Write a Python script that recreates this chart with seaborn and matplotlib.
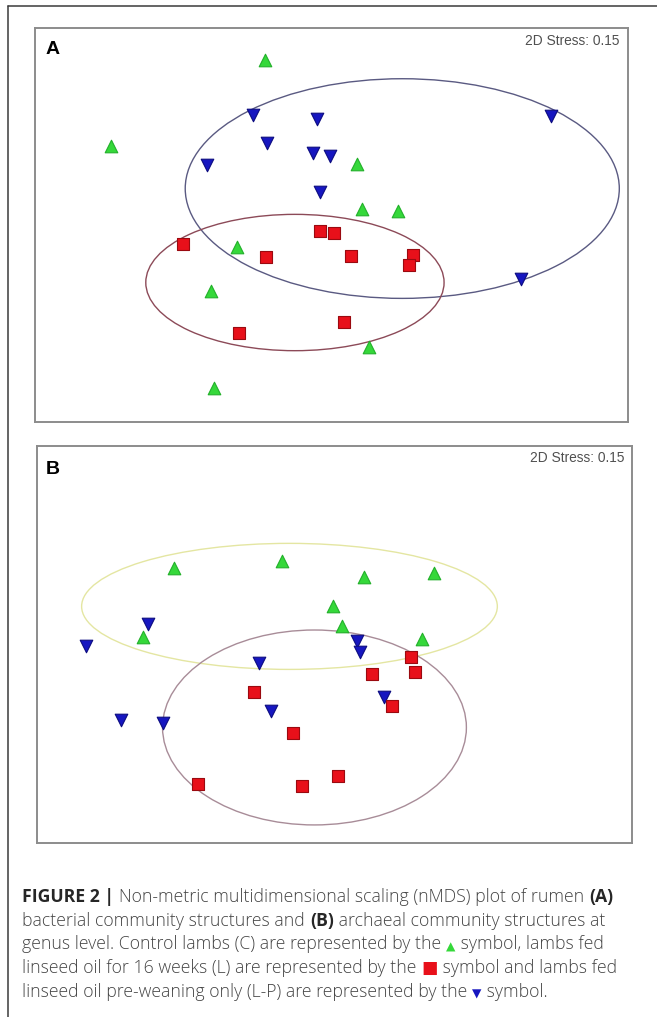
import numpy as np
import pandas as pd
import matplotlib
matplotlib.use("Agg")
import matplotlib.pyplot as plt
from matplotlib.patches import Ellipse
from matplotlib.lines import Line2D
from matplotlib.text import Annotation
import seaborn as sns

# ---------------- nMDS ordination scores ----------------
# (A) bacterial community, genus level
a_c_x = [-0.337, -1.113, 0.128, 0.156, 0.336, -0.478, -0.609, 0.188, -0.596]
a_c_y = [0.838, 0.401, 0.310, 0.080, 0.073, -0.110, -0.333, -0.618, -0.829]
a_l_x = [-0.056, 0.012, -0.749, -0.329, 0.099, 0.413, 0.394, 0.061, -0.469]
a_l_y = [-0.029, -0.039, -0.098, -0.164, -0.157, -0.154, -0.205, -0.491, -0.550]
a_lp_x = [-0.395, -0.073, 1.112, -0.325, -0.092, -0.007, -0.630, -0.056, 0.957]
a_lp_y = [0.558, 0.538, 0.553, 0.415, 0.367, 0.352, 0.305, 0.169, -0.276]

# (B) archaeal community, genus level
b_c_x = [-0.808, -0.267, 0.151, 0.500, -0.010, 0.037, -0.964, 0.443]
b_c_y = [0.384, 0.422, 0.342, 0.359, 0.194, 0.095, 0.039, 0.028]
b_l_x = [0.388, 0.187, 0.404, -0.404, 0.292, -0.208, 0.020, -0.687, -0.166]
b_l_y = [-0.061, -0.149, -0.137, -0.241, -0.308, -0.447, -0.662, -0.703, -0.713]
b_lp_x = [-0.941, -1.251, 0.115, 0.130, -0.381, 0.249, -0.320, -1.078, -0.867]
b_lp_y = [0.102, -0.006, 0.018, -0.036, -0.095, -0.266, -0.335, -0.380, -0.397]

# Group ellipses: centre x, centre y, width, height
a_lp_ellipse = [0.358, 0.185, 2.196, 1.115]
a_l_ellipse = [-0.185, -0.292, 1.509, 0.692]
b_c_ellipse = [-0.227, 0.192, 2.096, 0.635]
b_l_ellipse = [-0.101, -0.418, 1.532, 0.982]

stress_a = 0.15
stress_b = 0.15

# ---------------- styling ----------------
W, H = 657, 1017
sns.set_theme(style="white")
plt.rcParams["font.family"] = ["Liberation Sans", "DejaVu Sans"]

groups = {
    "C": dict(marker="^", face="#35d83a", edge="#22b02a", s=82),
    "L": dict(marker="s", face="#e8101a", edge="#9a0a10", s=64),
    "L-P": dict(marker="v", face="#1616c0", edge="#0c0c80", s=82),
}


def frac_rect(left, top, right, bottom):
    return [left / W, 1 - bottom / H, (right - left) / W, (bottom - top) / H]


def make_frame(x, y, group):
    return pd.DataFrame({"MDS1": x, "MDS2": y, "group": group})


fig = plt.figure(figsize=(W / 100, H / 100), dpi=100)

# outer figure border (top and left edges)
fig.add_artist(Line2D([8 / W, 1.0], [1 - 6 / H, 1 - 6 / H], transform=fig.transFigure,
                      color="#3a3a3a", lw=1.1))
fig.add_artist(Line2D([8 / W, 8 / W], [1 - 6 / H, 0.0], transform=fig.transFigure,
                      color="#3a3a3a", lw=1.1))

panels = [
    dict(label="A", rect=frac_rect(35, 28, 628, 422), stress=stress_a,
         data={"C": (a_c_x, a_c_y), "L": (a_l_x, a_l_y), "L-P": (a_lp_x, a_lp_y)},
         ellipses=[(a_lp_ellipse, "#5a5a82"), (a_l_ellipse, "#8c4a58")],
         label_pos=(0.0177, 0.934), stress_pos=(0.985, 0.966)),
    dict(label="B", rect=frac_rect(37, 446, 632, 843), stress=stress_b,
         data={"C": (b_c_x, b_c_y), "L": (b_l_x, b_l_y), "L-P": (b_lp_x, b_lp_y)},
         ellipses=[(b_c_ellipse, "#e4e6a2"), (b_l_ellipse, "#a88c98")],
         label_pos=(0.0146, 0.929), stress_pos=(0.987, 0.970)),
]

for p in panels:
    ax = fig.add_axes(p["rect"])
    for (cx, cy, w, h), col in p["ellipses"]:
        ax.add_patch(Ellipse((cx, cy), w, h, fill=False, edgecolor=col, lw=1.0, zorder=1))
    for g in ["L-P", "C", "L"]:
        gx, gy = p["data"][g]
        st = groups[g]
        sns.scatterplot(data=make_frame(gx, gy, g), x="MDS1", y="MDS2", ax=ax,
                        marker=st["marker"], color=st["face"], edgecolor=st["edge"],
                        linewidth=0.8, s=st["s"], legend=False, zorder=3)
    ax.set_xlim(-1.5, 1.5)
    ax.set_ylim(-1.0, 1.0)
    ax.set_xticks([])
    ax.set_yticks([])
    ax.set_xlabel("")
    ax.set_ylabel("")
    for sp in ax.spines.values():
        sp.set_color("#8c8c8c")
        sp.set_linewidth(1.4)
    ax.text(p["label_pos"][0], p["label_pos"][1], p["label"], transform=ax.transAxes,
            fontsize=14, fontweight="bold", color="black", ha="left", va="baseline")
    ax.text(p["stress_pos"][0], p["stress_pos"][1], f"2D Stress: {p['stress']:.2f}",
            transform=ax.transAxes, fontsize=9.9, color="#505050", ha="right", va="center")

# ---------------- caption ----------------
cap_font = ["Open Sans", "DejaVu Sans"]
regular = dict(family=cap_font, weight="light", color="#444444", fontsize=12.7)
bold = dict(family=cap_font, weight="bold", color="#262626", fontsize=12.7)
sym = lambda c: dict(family=["DejaVu Sans"], color=c, fontsize=8.8)

caption_lines = [
    [("FIGURE 2 | ", bold), ("Non-metric multidimensional scaling (nMDS) plot of rumen ", regular),
     ("(A)", bold)],
    [("bacterial community structures and ", regular), ("(B)", bold),
     (" archaeal community structures at", regular)],
    [("genus level. Control lambs (C) are represented by the ", regular),
     ("\u25B2", sym(groups["C"]["face"])), (" symbol, lambs fed", regular)],
    [("linseed oil for 16 weeks (L) are represented by the ", regular),
     ("\u25A0", dict(family=["DejaVu Sans"], color=groups["L"]["face"], fontsize=12.5)),
     (" symbol and lambs fed", regular)],
    [("linseed oil pre-weaning only (L-P) are represented by the ", regular),
     ("\u25BC", sym(groups["L-P"]["face"])), (" symbol.", regular)],
]

x0 = 22.5 / W
baselines = [902, 925.7, 949.4, 973.1, 996.8]
for base, parts in zip(baselines, caption_lines):
    prev = None
    for txt, props in parts:
        if prev is None:
            prev = fig.text(x0, 1 - base / H, txt, ha="left", va="baseline", **props)
        else:
            ann = Annotation(txt, xy=(1, 0), xycoords=prev, ha="left", va="bottom", **props)
            fig.add_artist(ann)
            prev = ann

fig.savefig("out.png", dpi=100)
